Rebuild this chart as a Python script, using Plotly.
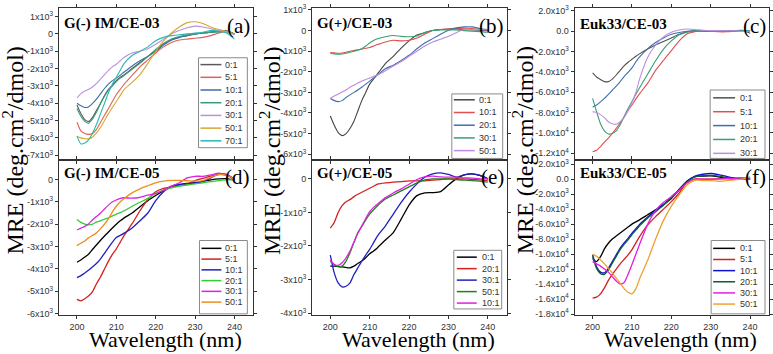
import plotly.graph_objects as go

# ---------------- data (MRE values in units of 10^3 deg.cm2/dmol) ----------------
W = [200, 201, 202, 203, 204, 205, 206, 207, 208, 209, 210, 211, 212,
     214, 216, 218, 220, 222, 224, 226, 228, 230, 232, 234, 236, 238, 240]
X_TICKS = [200, 210, 220, 230, 240]
X_TICKTEXT = ["200", "210", "220", "230", "240"]

# (a) G(-) IM/CE-03
a_labels = ["0:1", "5:1", "10:1", "20:1", "30:1", "50:1", "70:1"]
a_0 = [-4.1, -4.6, -4.95, -5.05, -4.8, -4.4, -4.0, -3.55, -3.2, -2.95, -2.7, -2.5, -2.35,
       -2.0, -1.65, -1.3, -0.95, -0.6, -0.35, -0.2, -0.1, 0.0, 0.05, 0.1, 0.15, 0.15, 0.0]
a_5 = [-5.1, -5.6, -5.75, -5.8, -5.75, -5.5, -5.1, -4.7, -4.3, -3.9, -3.5, -3.2, -2.9,
       -2.4, -1.9, -1.5, -1.1, -0.75, -0.5, -0.35, -0.3, -0.25, -0.2, -0.1, 0.05, 0.15, 0.0]
a_10 = [-4.0, -4.15, -4.25, -4.2, -4.0, -3.75, -3.45, -3.15, -2.9, -2.7, -2.55, -2.38, -2.2,
        -1.85, -1.55, -1.3, -1.0, -0.65, -0.35, -0.2, -0.1, 0.0, 0.05, 0.1, 0.15, 0.2, 0.0]
a_20 = [-4.3, -4.75, -5.05, -5.15, -4.9, -4.5, -4.0, -3.6, -3.25, -3.0, -2.75, -2.55, -2.4,
        -2.05, -1.7, -1.3, -0.9, -0.55, -0.3, -0.15, -0.05, 0.0, 0.05, 0.1, 0.1, 0.15, 0.0]
a_30 = [-3.7, -3.45, -3.3, -3.2, -3.05, -2.85, -2.6, -2.35, -2.1, -1.9, -1.75, -1.55, -1.35,
        -1.1, -1.0, -0.85, -0.6, -0.3, 0.0, 0.2, 0.35, 0.45, 0.4, 0.3, 0.2, 0.1, -0.05]
a_50 = [-5.9, -6.0, -6.05, -6.05, -5.95, -5.7, -5.4, -5.0, -4.6, -4.25, -3.9, -3.55, -3.2,
        -2.8, -2.35, -1.7, -1.0, -0.4, 0.05, 0.4, 0.65, 0.7, 0.6, 0.4, 0.25, 0.15, 0.0]
a_70 = [-5.9, -6.35, -6.3, -6.1, -5.7, -5.2, -4.6, -4.0, -3.4, -2.9, -2.5, -2.1, -1.7,
        -1.25, -1.0, -0.75, -0.4, -0.2, -0.1, -0.05, 0.0, 0.05, 0.1, 0.2, 0.15, 0.05, -0.3]
a_colors = ["#5a5a5a", "#e0605a", "#3d6ea8", "#3a9a78", "#b892e0", "#d6a830", "#2ab8b0"]
a_ytickvals = [1000, 0, -1000, -2000, -3000, -4000, -5000, -6000, -7000]
a_yticktext = ["1x10<sup>3</sup>", "0", "-1x10<sup>3</sup>", "-2x10<sup>3</sup>", "-3x10<sup>3</sup>",
               "-4x10<sup>3</sup>", "-5x10<sup>3</sup>", "-6x10<sup>3</sup>", "-7x10<sup>3</sup>"]

# (b) G(+)/CE-03
b_labels = ["0:1", "10:1", "20:1", "30:1", "50:1"]
b_0 = [-4.15, -4.6, -4.95, -5.1, -5.0, -4.75, -4.4, -3.9, -3.4, -3.0, -2.6, -2.35, -2.1,
       -1.6, -1.25, -0.85, -0.5, -0.22, -0.1, 0.0, 0.05, 0.08, 0.08, 0.05, 0.03, 0.02, 0.0]
b_10 = [-1.07, -1.08, -1.1, -1.09, -1.05, -1.0, -0.97, -0.93, -0.9, -0.86, -0.82, -0.75, -0.68,
        -0.55, -0.47, -0.5, -0.47, -0.36, -0.18, 0.0, 0.05, 0.08, 0.1, 0.12, 0.1, 0.05, 0.03]
b_20 = [-3.3, -3.4, -3.45, -3.4, -3.25, -3.12, -3.0, -2.88, -2.75, -2.6, -2.45, -2.3, -2.15,
        -1.85, -1.68, -1.45, -1.2, -0.88, -0.6, -0.39, -0.18, 0.02, 0.13, 0.18, 0.18, 0.1, 0.05]
b_30 = [-1.1, -1.13, -1.15, -1.14, -1.1, -1.05, -1.0, -0.95, -0.88, -0.75, -0.6, -0.48, -0.4,
        -0.3, -0.24, -0.28, -0.3, -0.26, -0.1, 0.0, 0.03, 0.03, 0.03, 0.0, -0.03, -0.05, -0.08]
b_50 = [-3.3, -3.18, -3.08, -2.98, -2.88, -2.75, -2.65, -2.55, -2.45, -2.37, -2.3, -2.22, -2.15,
        -1.95, -1.72, -1.5, -1.25, -1.0, -0.75, -0.55, -0.42, -0.28, -0.1, 0.05, 0.05, 0.05, 0.03]
b_colors = ["#444444", "#e05050", "#3d6fb0", "#3aa070", "#c08ae0"]
b_ytickvals = [1000, 0, -1000, -2000, -3000, -4000, -5000, -6000]
b_yticktext = ["1x10<sup>3</sup>", "0", "-1x10<sup>3</sup>", "-2x10<sup>3</sup>", "-3x10<sup>3</sup>",
               "-4x10<sup>3</sup>", "-5x10<sup>3</sup>", "-6x10<sup>3</sup>"]

# (c) Euk33/CE-03
c_labels = ["0:1", "5:1", "10:1", "20:1", "30:1"]
c_0 = [-4.1, -4.5, -4.75, -4.95, -4.95, -4.7, -4.3, -3.85, -3.4, -3.05, -2.75, -2.45, -2.2,
       -1.75, -1.35, -1.0, -0.65, -0.3, -0.05, 0.06, 0.02, 0.0, 0.0, 0.0, 0.05, 0.1, -0.2]
c_5 = [-11.85, -11.7, -11.35, -10.9, -10.5, -10.05, -9.55, -9.0, -8.4, -7.8, -7.25, -6.65, -6.1,
       -5.1, -3.85, -2.85, -1.9, -0.95, -0.25, -0.03, 0.0, 0.0, -0.05, -0.05, 0.0, 0.05, 0.0]
c_10 = [-7.45, -7.25, -6.95, -6.6, -6.2, -5.8, -5.4, -4.95, -4.45, -4.05, -3.6, -3.0, -2.5,
        -1.7, -1.1, -0.65, -0.3, -0.12, 0.0, 0.05, 0.05, 0.0, 0.0, 0.05, 0.05, 0.05, 0.05]
c_20 = [-6.6, -7.9, -9.1, -9.8, -10.1, -10.05, -9.8, -9.2, -8.4, -7.6, -6.9, -6.2, -5.5,
        -4.2, -2.9, -1.75, -0.95, -0.35, -0.1, 0.05, 0.05, 0.0, 0.0, 0.0, 0.05, 0.05, 0.05]
c_30 = [-7.9, -8.0, -8.2, -8.5, -8.9, -9.1, -9.15, -8.9, -8.5, -7.8, -7.0, -6.0, -4.6,
        -2.55, -1.35, -0.55, -0.1, 0.12, 0.22, 0.18, 0.1, 0.05, 0.05, 0.05, 0.05, 0.0, 0.0]
c_colors = ["#505050", "#e05050", "#3a70b0", "#3a9e78", "#c08ce0"]
c_ytickvals = [2000, 0, -2000, -4000, -6000, -8000, -10000, -12000]
c_yticktext = ["2.0x10<sup>3</sup>", "0.0", "-2.0x10<sup>3</sup>", "-4.0x10<sup>3</sup>", "-6.0x10<sup>3</sup>",
               "-8.0x10<sup>3</sup>", "-1.0x10<sup>4</sup>", "-1.2x10<sup>4</sup>"]

# (d) G(-) IM/CE-05
d_labels = ["0:1", "5:1", "10:1", "20:1", "30:1", "50:1"]
d_0 = [-3.7, -3.6, -3.47, -3.33, -3.12, -2.92, -2.72, -2.53, -2.35, -2.17, -2.0, -1.85, -1.72,
       -1.5, -1.22, -0.95, -0.72, -0.5, -0.32, -0.23, -0.18, -0.14, -0.08, -0.02, 0.02, 0.03, -0.03]
d_5 = [-5.36, -5.43, -5.33, -5.2, -5.0, -4.65, -4.35, -4.0, -3.65, -3.35, -3.1, -2.8, -2.5,
       -1.98, -1.4, -0.9, -0.55, -0.4, -0.33, -0.28, -0.2, -0.05, 0.05, 0.15, 0.22, 0.18, 0.02]
d_10 = [-4.39, -4.3, -4.18, -4.05, -3.9, -3.75, -3.55, -3.3, -3.05, -2.8, -2.6, -2.5, -2.4,
        -2.17, -1.85, -1.5, -0.95, -0.55, -0.3, -0.22, -0.2, -0.16, -0.1, 0.07, 0.25, 0.22, 0.0]
d_20 = [-1.79, -1.92, -2.0, -2.03, -2.0, -1.9, -1.85, -1.78, -1.72, -1.63, -1.55, -1.48, -1.4,
        -1.2, -1.02, -0.85, -0.62, -0.48, -0.38, -0.3, -0.25, -0.2, -0.15, -0.1, -0.05, -0.02, 0.0]
d_30 = [-2.26, -2.18, -2.1, -1.98, -1.8, -1.65, -1.5, -1.32, -1.15, -1.0, -0.92, -0.85, -0.82,
        -0.84, -0.8, -0.7, -0.64, -0.48, -0.3, -0.15, 0.07, 0.14, 0.14, 0.2, 0.28, 0.2, 0.0]
d_50 = [-2.96, -2.85, -2.75, -2.6, -2.5, -2.38, -2.2, -2.0, -1.75, -1.45, -1.2, -1.0, -0.85,
        -0.6, -0.42, -0.28, -0.15, -0.08, -0.04, -0.05, -0.06, -0.08, -0.05, 0.1, 0.22, 0.18, 0.02]
d_colors = ["#000000", "#d42020", "#2020c0", "#33cc33", "#e020e0", "#f08c1e"]
d_ytickvals = [0, -1000, -2000, -3000, -4000, -5000, -6000]
d_yticktext = ["0", "-1x10<sup>3</sup>", "-2x10<sup>3</sup>", "-3x10<sup>3</sup>",
               "-4x10<sup>3</sup>", "-5x10<sup>3</sup>", "-6x10<sup>3</sup>"]

# (e) G(+)/CE-05
e_labels = ["0:1", "20:1", "30:1", "50:1", "10:1"]
e_0 = [-2.6, -2.6, -2.61, -2.62, -2.64, -2.65, -2.6, -2.52, -2.45, -2.35, -2.23, -2.15, -2.05,
       -1.82, -1.6, -1.2, -0.78, -0.5, -0.42, -0.41, -0.38, -0.18, 0.0, 0.12, 0.15, 0.1, 0.0]
e_20 = [-1.47, -1.3, -1.0, -0.8, -0.68, -0.62, -0.53, -0.46, -0.4, -0.34, -0.28, -0.22, -0.16,
        -0.12, -0.1, -0.08, -0.06, -0.06, -0.06, -0.04, -0.02, 0.0, 0.0, 0.0, -0.02, -0.03, -0.05]
e_30 = [-2.27, -2.8, -3.1, -3.22, -3.2, -3.1, -2.85, -2.65, -2.45, -2.27, -2.1, -1.9, -1.7,
        -1.4, -1.05, -0.7, -0.4, -0.15, 0.05, 0.15, 0.18, 0.13, 0.05, 0.12, 0.15, 0.1, 0.0]
e_50 = [-2.46, -2.55, -2.62, -2.6, -2.45, -2.2, -1.9, -1.6, -1.42, -1.22, -1.05, -0.92, -0.8,
        -0.6, -0.48, -0.36, -0.24, -0.12, -0.03, 0.0, 0.0, 0.0, -0.02, -0.04, -0.05, -0.07, -0.1]
e_10 = [-2.42, -2.55, -2.58, -2.5, -2.35, -2.15, -1.88, -1.62, -1.4, -1.18, -0.98, -0.85, -0.75,
        -0.56, -0.42, -0.3, -0.16, -0.02, 0.06, 0.08, 0.06, 0.05, 0.05, 0.03, 0.02, 0.0, 0.0]
e_colors = ["#000000", "#d42020", "#2020c0", "#208020", "#e020e0"]
e_ytickvals = [0, -1000, -2000, -3000, -4000]
e_yticktext = ["0", "-1x10<sup>3</sup>", "-2x10<sup>3</sup>", "-3x10<sup>3</sup>", "-4x10<sup>3</sup>"]

# (f) Euk33/CE-05
f_labels = ["0:1", "5:1", "10:1", "20:1", "30:1", "50:1"]
f_0 = [-10.6, -11.0, -10.35, -9.3, -8.55, -8.0, -7.6, -7.2, -6.8, -6.4, -6.0, -5.7, -5.4,
       -4.75, -4.1, -3.4, -2.6, -1.35, -0.25, 0.34, 0.4, 0.43, 0.3, 0.1, 0.0, 0.0, 0.0]
f_5 = [-15.86, -15.75, -15.3, -14.5, -13.5, -12.7, -12.0, -11.3, -10.7, -10.1, -9.4, -8.5, -7.6,
       -6.1, -5.0, -4.0, -3.0, -1.85, -0.4, 0.0, 0.0, 0.0, 0.05, 0.1, 0.15, 0.15, 0.2]
f_10 = [-10.1, -11.7, -12.4, -12.5, -11.9, -11.0, -10.1, -9.2, -8.5, -7.9, -7.2, -6.6, -6.0,
        -5.05, -4.2, -3.4, -2.37, -1.4, -0.3, 0.4, 0.65, 0.75, 0.6, 0.35, 0.1, 0.0, 0.0]
f_20 = [-10.3, -11.9, -12.6, -12.7, -12.1, -11.2, -10.3, -9.4, -8.7, -8.1, -7.4, -6.8, -6.2,
        -5.2, -4.35, -3.5, -2.5, -1.5, -0.4, 0.3, 0.45, 0.5, 0.4, 0.2, 0.05, 0.0, 0.0]
f_30 = [-11.0, -11.3, -11.6, -12.0, -12.4, -13.0, -13.6, -14.0, -13.8, -12.7, -11.4, -10.0, -8.6,
        -6.0, -4.2, -3.1, -2.35, -1.45, -0.5, 0.0, 0.0, 0.0, 0.02, 0.05, 0.05, 0.0, 0.0]
f_50 = [-10.0, -10.3, -10.75, -11.3, -11.9, -12.5, -13.2, -13.9, -14.6, -15.1, -15.3, -14.6, -13.2,
        -10.8, -8.0, -5.5, -3.6, -2.1, -0.75, -0.15, -0.2, -0.2, -0.3, -0.2, -0.1, 0.0, 0.3]
f_colors = ["#000000", "#d42020", "#1010d0", "#106030", "#e020e0", "#f0a030"]
f_ytickvals = [2000, 0, -2000, -4000, -6000, -8000, -10000, -12000, -14000, -16000, -18000]
f_yticktext = ["2.0x10<sup>3</sup>", "0.0", "-2.0x10<sup>3</sup>", "-4.0x10<sup>3</sup>", "-6.0x10<sup>3</sup>",
               "-8.0x10<sup>3</sup>", "-1.0x10<sup>4</sup>", "-1.2x10<sup>4</sup>", "-1.4x10<sup>4</sup>",
               "-1.6x10<sup>4</sup>", "-1.8x10<sup>4</sup>"]

TITLES = ["G(-) IM/CE-03", "G(+)/CE-03", "Euk33/CE-03", "G(-) IM/CE-05", "G(+)/CE-05", "Euk33/CE-05"]
TAGS = ["(a)", "(b)", "(c)", "(d)", "(e)", "(f)"]
Y_TITLE = "MRE (deg.cm<sup>2</sup>/dmol)"
X_TITLE = "Wavelength (nm)"

# ---------------- layout (pixels) ----------------
FW, FH = 773, 354
COLS = [(59, 254), (313, 508), (576, 771)]
ROWS = [(4, 160), (160, 318)]
XRANGE = [195.4, 244.8]
SANS = "Liberation Sans, Arial, sans-serif"
SERIF = "Liberation Serif, Times New Roman, serif"


def px(x):
    return x / FW


def py(y):
    return 1 - y / FH


panels = [
    dict(labels=a_labels, series=[a_0, a_5, a_10, a_20, a_30, a_50, a_70], colors=a_colors,
         yr=[-7300, 1500], yv=a_ytickvals, yt=a_yticktext, lw=1.1,
         leg=(199, 55, 248, 147, 62, 13.0, 201, 222, 224)),
    dict(labels=b_labels, series=[b_0, b_10, b_20, b_30, b_50], colors=b_colors,
         yr=[-6300, 1100], yv=b_ytickvals, yt=b_yticktext, lw=1.1,
         leg=(453, 92, 504, 158, 98, 13.0, 455, 476, 478)),
    dict(labels=c_labels, series=[c_0, c_5, c_10, c_20, c_30], colors=c_colors,
         yr=[-12700, 2300], yv=c_ytickvals, yt=c_yticktext, lw=1.1,
         leg=(712, 88, 767, 158, 96, 14.2, 715, 737, 740)),
    dict(labels=d_labels, series=[d_0, d_5, d_10, d_20, d_30, d_50], colors=d_colors,
         yr=[-6050, 850], yv=d_ytickvals, yt=d_yticktext, lw=1.3,
         leg=(200, 242, 248, 317, 250, 11.0, 202, 222, 224)),
    dict(labels=e_labels, series=[e_0, e_20, e_30, e_50, e_10], colors=e_colors,
         yr=[-4050, 550], yv=e_ytickvals, yt=e_yticktext, lw=1.3,
         leg=(455, 252, 503, 312, 259, 11.75, 458, 478, 481)),
    dict(labels=f_labels, series=[f_0, f_5, f_10, f_20, f_30, f_50], colors=f_colors,
         yr=[-18100, 2500], yv=f_ytickvals, yt=f_yticktext, lw=1.3,
         leg=(713, 242, 767, 317, 250, 11.4, 715, 737, 740)),
]

fig = go.Figure()
shapes, annotations = [], []
axis_common = dict(showline=True, linecolor="#333333", linewidth=1, mirror="allticks",
                   ticks="outside", ticklen=3, tickcolor="#333333", showgrid=False, zeroline=False,
                   tickfont=dict(family=SANS, size=9, color="#333333"), fixedrange=True)

for i, p in enumerate(panels):
    r, c = divmod(i, 3)
    sfx = "" if i == 0 else str(i + 1)
    xa, ya = "x" + sfx, "y" + sfx
    for lab, vals, col in zip(p["labels"], p["series"], p["colors"]):
        fig.add_trace(go.Scatter(
            x=W, y=[v * 1000 for v in vals], mode="lines", name=lab, showlegend=False,
            line=dict(color=col, width=p["lw"], shape="spline", smoothing=0.6),
            xaxis=xa, yaxis=ya, hoverinfo="skip"))
    x0, x1 = COLS[c]
    y0, y1 = ROWS[r]
    fig.update_layout(**{
        "xaxis" + sfx: dict(axis_common, domain=[px(x0), px(x1)], anchor=ya, range=XRANGE,
                            tickvals=X_TICKS, ticktext=X_TICKTEXT, showticklabels=(r == 1)),
        "yaxis" + sfx: dict(axis_common, domain=[py(y1), py(y0)], anchor=xa, range=p["yr"],
                            tickvals=p["yv"], ticktext=p["yt"]),
    })
    # panel title and tag
    annotations.append(dict(text="<b>" + TITLES[i] + "</b>", xref="paper", yref="paper",
                            x=px(x0 + 3), y=py(y0 + (16 if r == 0 else 13)), xanchor="left", yanchor="middle",
                            showarrow=False, font=dict(family=SERIF, size=15, color="#000")))
    annotations.append(dict(text=TAGS[i], xref="paper", yref="paper",
                            x=px(x1 - 1), y=py(y0 + (18 if r == 0 else 17)), xanchor="right", yanchor="middle",
                            showarrow=False, font=dict(family=SERIF, size=21, color="#000")))
    # custom compact legend box
    bx0, by0, bx1, by1, ey0, edy, lx0, lx1, tx = p["leg"]
    shapes.append(dict(type="rect", xref="paper", yref="paper", x0=px(bx0), x1=px(bx1),
                       y0=py(by1), y1=py(by0), line=dict(color="#8a8a8a", width=1), fillcolor="white",
                       layer="above"))
    for k, (lab, col) in enumerate(zip(p["labels"], p["colors"])):
        yy = ey0 + k * edy
        shapes.append(dict(type="line", xref="paper", yref="paper", x0=px(lx0), x1=px(lx1),
                           y0=py(yy), y1=py(yy), line=dict(color=col, width=1.5), layer="above"))
        annotations.append(dict(text=lab, xref="paper", yref="paper", x=px(tx), y=py(yy),
                                xanchor="left", yanchor="middle", showarrow=False,
                                font=dict(family=SANS, size=9, color="#333333")))

# axis titles per column
for c, (x0, x1) in enumerate(COLS):
    ytx = [13, 270, 524][c]
    annotations.append(dict(text=Y_TITLE, xref="paper", yref="paper", x=px(ytx), y=py(150),
                            xanchor="center", yanchor="middle", textangle=-90, showarrow=False,
                            font=dict(family=SERIF, size=24, color="#000")))
    annotations.append(dict(text=X_TITLE, xref="paper", yref="paper", x=px((x0 + x1) / 2 + 9), y=py(343),
                            xanchor="center", yanchor="middle", showarrow=False,
                            font=dict(family=SERIF, size=22, color="#000")))

fig.update_layout(width=FW, height=FH, autosize=False, margin=dict(l=0, r=0, t=0, b=0, pad=0),
                  paper_bgcolor="white", plot_bgcolor="white", showlegend=False,
                  shapes=shapes, annotations=annotations)

fig.write_html("out.html", include_plotlyjs=True, config={"displayModeBar": False},
               post_script="document.body.style.margin='0';document.body.style.overflow='hidden';")
